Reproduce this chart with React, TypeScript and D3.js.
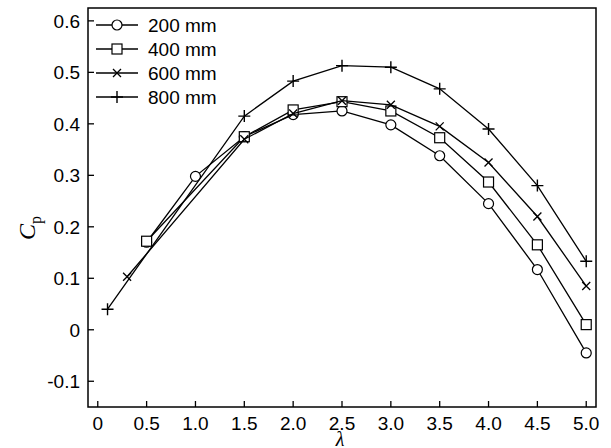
import React from "react";
import * as d3 from "d3";

const xs200 = [0.5, 1.0, 1.5, 2.0, 2.5, 3.0, 3.5, 4.0, 4.5, 5.0];
const ys200 = [0.17, 0.298, 0.375, 0.418, 0.425, 0.398, 0.338, 0.245, 0.117, -0.045];
const xs400 = [0.5, 1.5, 2.0, 2.5, 3.0, 3.5, 4.0, 4.5, 5.0];
const ys400 = [0.172, 0.375, 0.427, 0.443, 0.425, 0.373, 0.287, 0.165, 0.01];
const xs600 = [0.3, 1.5, 2.0, 2.5, 3.0, 3.5, 4.0, 4.5, 5.0];
const ys600 = [0.103, 0.37, 0.42, 0.445, 0.437, 0.395, 0.325, 0.22, 0.085];
const xs800 = [0.1, 1.5, 2.0, 2.5, 3.0, 3.5, 4.0, 4.5, 5.0];
const ys800 = [0.04, 0.415, 0.483, 0.513, 0.51, 0.468, 0.39, 0.28, 0.133];
const seriesNames = ["200 mm", "400 mm", "600 mm", "800 mm"];
const markers = ["circle", "square", "x", "plus"];
const xTicks = [0, 0.5, 1, 1.5, 2, 2.5, 3, 3.5, 4, 4.5, 5];
const yTicks = [-0.1, 0, 0.1, 0.2, 0.3, 0.4, 0.5, 0.6];

const L = 88, R = 596, T = 8, B = 407;
const x = d3.scaleLinear().domain([-0.1, 5.1]).range([L, R]);
const y = d3.scaleLinear().domain([-0.15, 0.625]).range([B, T]);

function Marker({ type, cx, cy }: { type: string; cx: number; cy: number }) {
  const s = { fill: "white", stroke: "black", strokeWidth: 1.2 } as any;
  if (type === "circle") return <circle cx={cx} cy={cy} r={5} {...s} />;
  if (type === "square") return <rect x={cx - 5} y={cy - 5} width={10} height={10} {...s} />;
  if (type === "x") return <path d={`M${cx - 4},${cy - 4}L${cx + 4},${cy + 4}M${cx - 4},${cy + 4}L${cx + 4},${cy - 4}`} stroke="black" strokeWidth={1.3} />;
  return <path d={`M${cx - 6},${cy}L${cx + 6},${cy}M${cx},${cy - 6}L${cx},${cy + 6}`} stroke="black" strokeWidth={1.4} />;
}

export default function App() {
  const series = [[xs200, ys200], [xs400, ys400], [xs600, ys600], [xs800, ys800]];
  const line = d3.line<[number, number]>().x(d => x(d[0])).y(d => y(d[1]));
  const font = "Liberation Sans, Arial, sans-serif";
  return (
    <svg width={611} height={448} style={{ position: "absolute", left: 0, top: 0 }} fontFamily={font}>
      <rect x={0} y={0} width={611} height={448} fill="white" />
      {series.map(([xv, yv], i) => {
        const pts = xv.map((v, j) => [v, yv[j]] as [number, number]);
        return (
          <g key={i}>
            <path d={line(pts)!} fill="none" stroke="black" strokeWidth={1.3} />
            {pts.map((p, j) => <Marker key={j} type={markers[i]} cx={x(p[0])} cy={y(p[1])} />)}
          </g>
        );
      })}
      <rect x={L} y={T} width={R - L} height={B - T} fill="none" stroke="black" strokeWidth={1.5} />
      {xTicks.map(t => (
        <g key={t}>
          <line x1={x(t)} x2={x(t)} y1={B} y2={B - 6} stroke="black" strokeWidth={1.3} />
          <text x={x(t)} y={B + 23} fontSize={19} textAnchor="middle">{t === 0 ? "0" : t.toFixed(1)}</text>
        </g>
      ))}
      {yTicks.map(t => (
        <g key={t}>
          <line x1={L} x2={L + 6} y1={y(t)} y2={y(t)} stroke="black" strokeWidth={1.3} />
          <text x={L - 8} y={y(t) + 7} fontSize={19} textAnchor="end">{Math.abs(t) < 1e-9 ? "0" : t.toFixed(1)}</text>
        </g>
      ))}
      <text x={340} y={446} fontSize={20} fontStyle="italic" fontFamily="Liberation Serif, serif" textAnchor="middle">λ</text>
      <text transform="translate(35,228) rotate(-90)" fontSize={24} fontStyle="italic" fontFamily="Liberation Serif, serif" textAnchor="middle">
        C<tspan fontSize={16} dy={6} fontStyle="normal">p</tspan>
      </text>
      {seriesNames.map((n, i) => {
        const ly = 25 + i * 24;
        return (
          <g key={n}>
            <line x1={96} x2={138} y1={ly} y2={ly} stroke="black" strokeWidth={1.3} />
            <Marker type={markers[i]} cx={117} cy={ly} />
            <text x={148} y={ly + 7} fontSize={19}>{n}</text>
          </g>
        );
      })}
    </svg>
  );
}
